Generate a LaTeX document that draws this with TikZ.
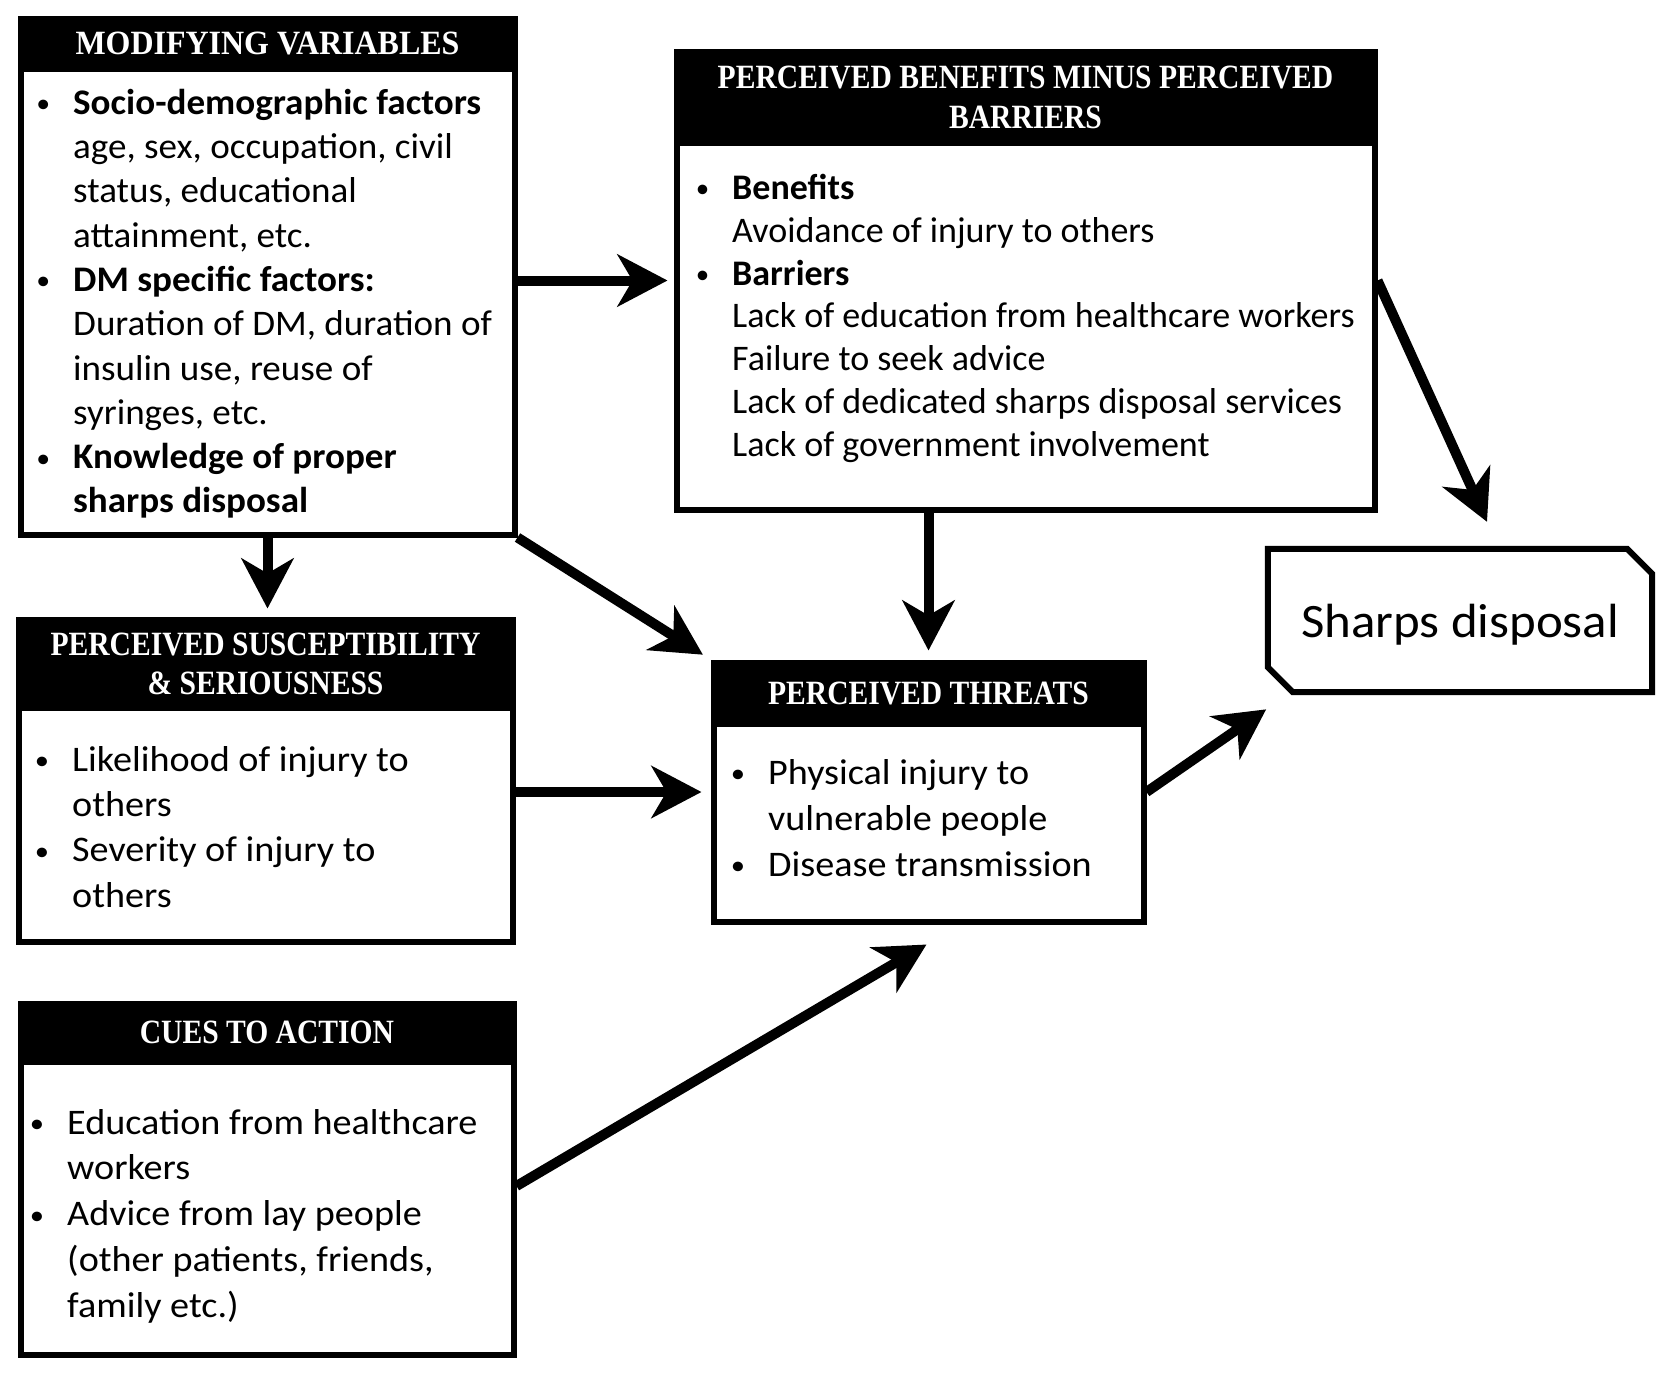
\documentclass[tikz,border=0pt]{standalone}
\usepackage{fontspec}
\setmainfont{Carlito}[FakeStretch=1.06]
\newfontfamily\mvfont[FakeStretch=1.03]{Carlito}
\newfontfamily\pbbfont{Carlito}
\newfontfamily\hdrfont[FakeStretch=0.87]{Liberation Serif}
\newfontfamily\hdrwide[FakeStretch=0.94]{Liberation Serif}
\usetikzlibrary{arrows.meta,calc}
\newcommand\bl{\llap{\raisebox{1.5pt}{\scalebox{0.75}{\textbullet}}\hspace{23pt}}}
\begin{document}
\begin{tikzpicture}[x=1pt,y=-1pt,
  box/.style={draw=black, line width=6pt, fill=white, inner sep=0pt},
  hdr/.style={fill=black, text=white, inner sep=0pt, anchor=north, align=center, text depth=0pt,
    font=\hdrfont\bfseries\fontsize{34}{39.5}\selectfont},
  txt/.style={anchor=north west, inner sep=0pt, align=left},
  arr/.style={line width=10pt, -{Stealth[length=50pt,width=52pt,inset=15pt]}}
]
\fill[white] (0,0) rectangle (1675,1379);
\useasboundingbox (0,0) rectangle (1675,1379);

% boxes
\node[box, minimum width=494pt, minimum height=516pt] (mv) at (267.5,276.5) {};
\node[hdr, minimum width=494pt, minimum height=56pt, font=\hdrwide\bfseries\fontsize{34}{39.5}\selectfont] (mvh) at (mv.north) {MODIFYING VARIABLES};
\node[txt, font=\mvfont\fontsize{36}{44.3}\selectfont] (mvt) at (73,84) {\rule{0pt}{30pt}\bl\textbf{Socio-demographic factors}\\
age, sex, occupation, civil\\
status, educational\\
attainment, etc.\\
\bl\textbf{DM specific factors:}\\
Duration of DM, duration of\\
insulin use, reuse of\\
syringes, etc.\\
\bl\textbf{Knowledge of proper}\\
\textbf{sharps disposal}};

\node[box, minimum width=698pt, minimum height=458pt] (pbb) at (1025.5,280.5) {};
\node[hdr, minimum width=698pt, minimum height=97pt] (pbbh) at (pbb.north) {PERCEIVED BENEFITS MINUS PERCEIVED\\BARRIERS};
\node[txt, font=\pbbfont\fontsize{36}{42.9}\selectfont] (pbbt) at (732,169) {\rule{0pt}{30pt}\bl\textbf{Benefits}\\
Avoidance of injury to others\\
\bl\textbf{Barriers}\\
Lack of education from healthcare workers\\
Failure to seek advice\\
Lack of dedicated sharps disposal services\\
Lack of government involvement};

\node[box, minimum width=494pt, minimum height=322pt] (pss) at (265.5,780.5) {};
\node[hdr, minimum width=494pt, minimum height=94pt] (pssh) at (pss.north) {PERCEIVED SUSCEPTIBILITY\\\& SERIOUSNESS};
\node[txt, font=\fontsize{36}{45.3}\selectfont] (psst) at (72,741) {\rule{0pt}{30pt}\bl Likelihood of injury to\\
others\\
\bl Severity of injury to\\
others};

\node[box, minimum width=430pt, minimum height=259pt] (pt) at (928.5,792) {};
\node[hdr, minimum width=430pt, minimum height=67pt] (pth) at (pt.north) {PERCEIVED THREATS};
\node[txt, font=\fontsize{36}{46}\selectfont] (ptt) at (768,754) {\rule{0pt}{30pt}\bl Physical injury to\\
vulnerable people\\
\bl Disease transmission};

\node[box, minimum width=493pt, minimum height=351pt] (cues) at (267,1179) {};
\node[hdr, minimum width=493pt, minimum height=64pt] (cuesh) at (cues.north) {CUES TO ACTION};
\node[txt, font=\fontsize{36}{45.75}\selectfont] (cuest) at (67,1104) {\rule{0pt}{30pt}\bl Education from healthcare\\
workers\\
\bl Advice from lay people\\
(other patients, friends,\\
family etc.)};

\node[inner sep=0pt, minimum width=384pt, minimum height=143pt, text depth=0pt, font=\fontsize{48}{58}\selectfont] (sd) at (1460,620.5) {Sharps disposal};
\draw[line width=6pt, line join=miter] (sd.north west) -- ([xshift=-25pt]sd.north east) -- ([yshift=-25pt]sd.north east) -- (sd.south east) -- ([xshift=25pt]sd.south west) -- ([yshift=25pt]sd.south west) -- cycle;

% arrows
\draw[arr, shorten >=6pt] (mv.east |- pbb.west) -- (pbb.west);
\draw[arr, shorten >=8pt] (mv.south) -- (mv.south |- pss.north);
\draw[arr, shorten >=9pt] (mv.south east) -- (pt.north west);
\draw[arr, shorten >=9pt] (pt.north |- pbb.south) -- (pt.north);
\draw[arr, shorten >=9pt] (pss.east |- pt.west) -- (pt.west);
\draw[arr] ([yshift=-7pt]cues.east) -- ([xshift=-2pt,yshift=-20pt]pt.south);
\draw[arr, shorten >=2pt] (pt.east) -- ([yshift=-16pt]sd.south west);
\draw[arr] (pbb.east) -- ([xshift=27pt,yshift=27pt]sd.north);
\end{tikzpicture}
\end{document}
